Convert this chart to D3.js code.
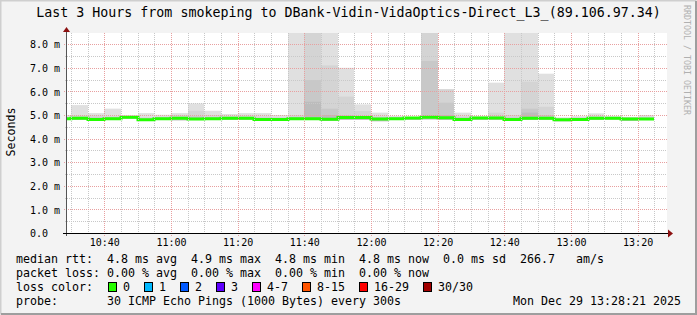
<!DOCTYPE html>
<html>
<head>
<meta charset="utf-8">
<script src="https://cdnjs.cloudflare.com/ajax/libs/d3/7.8.5/d3.min.js"></script>
<style>
  html, body { margin: 0; padding: 0; background: #f3f3f3; }
  svg { display: block; }
  text { font-family: "DejaVu Sans Mono", monospace; fill: #000; white-space: pre; }
</style>
</head>
<body>
<div id="chart"></div>
<script>
// 5 minute steps (start of each step)
var times = ["10:25","10:30","10:35","10:40","10:45","10:50","10:55","11:00","11:05","11:10","11:15","11:20",
             "11:25","11:30","11:35","11:40","11:45","11:50","11:55","12:00","12:05","12:10","12:15","12:20",
             "12:25","12:30","12:35","12:40","12:45","12:50","12:55","13:00","13:05","13:10","13:15","13:20"];

// median rtt (ms)
var median = [4.84,4.86,4.81,4.84,4.90,4.80,4.84,4.86,4.83,4.84,4.86,4.86,
              4.81,4.81,4.84,4.84,4.82,4.89,4.89,4.83,4.84,4.87,4.90,4.88,
              4.81,4.87,4.87,4.81,4.86,4.86,4.80,4.81,4.86,4.86,4.83,4.83];

// smoke (ms): outer ping range and inner bands
var smokeMax = [5.00,5.42,5.08,5.27,4.98,5.08,5.01,5.08,5.49,5.18,5.04,5.08,
                5.08,5.00,9.00,9.00,9.00,7.00,5.45,5.10,4.96,4.92,9.00,6.09,
                5.10,4.95,6.37,9.00,9.00,6.75,4.90,4.95,5.07,4.95,4.92,5.00];
var smokeHi1 = [4.90,4.98,4.98,4.95,4.95,4.90,4.93,5.00,5.18,5.00,4.95,4.98,
                4.95,4.90,5.00,9.00,7.10,5.78,5.17,4.95,4.92,4.90,9.00,6.09,
                4.95,4.92,5.10,5.00,6.41,5.35,4.85,4.90,4.95,4.90,4.90,4.92];
var smokeHi2 = [4.87,4.92,4.90,4.90,4.93,4.85,4.88,4.92,4.95,4.90,4.90,4.90,
                4.88,4.85,4.92,6.48,5.27,5.00,4.95,4.90,4.88,4.88,7.29,5.52,
                4.90,4.90,4.95,4.90,5.27,5.00,4.82,4.87,4.90,4.88,4.88,4.88];
var smokeHi3 = [4.86,4.88,4.86,4.87,4.91,4.83,4.86,4.88,4.90,4.87,4.88,4.88,
                4.85,4.83,4.88,5.56,5.00,4.92,4.90,4.86,4.85,4.86,5.00,5.00,
                4.86,4.88,4.90,4.85,5.10,4.92,4.80,4.85,4.87,4.86,4.86,4.86];
var smokeMin = [4.80,4.80,4.78,4.80,4.85,4.76,4.80,4.78,4.80,4.80,4.80,4.80,
                4.78,4.75,4.80,4.80,4.75,4.80,4.80,4.74,4.80,4.80,4.82,4.80,
                4.78,4.80,4.80,4.76,4.80,4.80,4.74,4.80,4.80,4.82,4.76,4.80];

var yTicks = [0,1,2,3,4,5,6,7,8];
var xTicks = ["10:40","11:00","11:20","11:40","12:00","12:20","12:40","13:00","13:20"];

var lossLabels = ["0","1","2","3","4-7","8-15","16-29","30/30"];
var lossColors = ["#26ff00","#00b8ff","#0059ff","#5e00ff","#ff00ff","#ff5500","#ff0000","#a10000"];

var W = 697, H = 315;
var pL = 67, pR = 667, pT = 33, pB = 233;
var cw = 7; // legend char width

function t(s) {
  var p = s.split(":");
  return new Date(2025, 11, 29, +p[0], +p[1], +(p[2] || 0));
}

var x = d3.scaleTime()
  .domain([t("10:28:49"), t("13:28:49")])
  .range([pL, pR]);

var y = d3.scaleLinear()
  .domain([0, 8.475])
  .range([pB, pT]);

var svg = d3.select("#chart").append("svg")
  .attr("width", W)
  .attr("height", H);

// background + 3d frame
svg.append("rect").attr("width", W).attr("height", H).attr("fill", "#f3f3f3");
svg.append("path").attr("d", "M0.5," + (H - 0.5) + "V0.5H" + (W - 0.5))
  .attr("stroke", "#cfcfcf").attr("stroke-width", 2).attr("fill", "none");
svg.append("path").attr("d", "M1," + (H - 1) + "H" + (W - 1) + "V1")
  .attr("stroke", "#9e9e9e").attr("stroke-width", 2).attr("fill", "none");

// plot area
svg.append("rect")
  .attr("x", pL).attr("y", pT)
  .attr("width", pR - pL).attr("height", pB - pT)
  .attr("fill", "#ffffff");

svg.append("clipPath").attr("id", "plot")
  .append("rect")
  .attr("x", pL).attr("y", pT)
  .attr("width", pR - pL).attr("height", pB - pT);

var plot = svg.append("g").attr("clip-path", "url(#plot)");

// smoke
var bands = [
  {hi: smokeMax, color: "#e0e0e0"},
  {hi: smokeHi1, color: "#d4d4d4"},
  {hi: smokeHi2, color: "#c8c8c8"},
  {hi: smokeHi3, color: "#bcbcbc"}
];

bands.forEach(function(b) {
  plot.append("g").selectAll("rect")
    .data(times)
    .enter()
    .append("rect")
    .attr("x", function(d) { return Math.round(x(t(d))); })
    .attr("width", function(d) {
      return Math.round(x(d3.timeMinute.offset(t(d), 5))) - Math.round(x(t(d)));
    })
    .attr("y", function(d, i) { return y(b.hi[i]); })
    .attr("height", function(d, i) { return Math.max(0, y(smokeMin[i]) - y(b.hi[i])); })
    .attr("fill", b.color);
});

// grid
var grid = svg.append("g").attr("shape-rendering", "crispEdges");

var minorY = d3.range(0.5, 8.5, 1);
var majorY = yTicks.filter(function(v) { return v > 0; });

grid.selectAll(".hminor")
  .data(minorY)
  .enter().append("line")
  .attr("x1", pL - 2).attr("x2", pR)
  .attr("y1", function(d) { return Math.round(y(d)) + 0.5; })
  .attr("y2", function(d) { return Math.round(y(d)) + 0.5; })
  .attr("stroke", "#c8c8c8")
  .attr("stroke-dasharray", "1,1");

var vMinor = x.ticks(d3.timeMinute.every(5)).filter(function(d) { return d.getMinutes() % 20 !== 0; });
var vMajor = xTicks.map(t);

grid.selectAll(".vminor")
  .data(vMinor)
  .enter().append("line")
  .attr("x1", function(d) { return Math.round(x(d)) + 0.5; })
  .attr("x2", function(d) { return Math.round(x(d)) + 0.5; })
  .attr("y1", pT).attr("y2", pB + 2)
  .attr("stroke", "#c8c8c8")
  .attr("stroke-dasharray", "1,1");

grid.selectAll(".hmajor")
  .data(majorY)
  .enter().append("line")
  .attr("x1", pL - 3).attr("x2", pR)
  .attr("y1", function(d) { return Math.round(y(d)) + 0.5; })
  .attr("y2", function(d) { return Math.round(y(d)) + 0.5; })
  .attr("stroke", "#e8a0a0")
  .attr("stroke-dasharray", "1,1");

grid.selectAll(".vmajor")
  .data(vMajor)
  .enter().append("line")
  .attr("x1", function(d) { return Math.round(x(d)) + 0.5; })
  .attr("x2", function(d) { return Math.round(x(d)) + 0.5; })
  .attr("y1", pT).attr("y2", pB + 3)
  .attr("stroke", "#e8a0a0")
  .attr("stroke-dasharray", "1,1");

// median line
var medPts = times.map(function(d, i) { return [t(d), median[i]]; });
medPts.push([d3.timeMinute.offset(t(times[times.length - 1]), 5), median[median.length - 1]]);

var line = d3.line()
  .x(function(d) { return Math.round(x(d[0])); })
  .y(function(d) { return y(d[1]); })
  .curve(d3.curveStepAfter);

plot.append("path")
  .datum(medPts)
  .attr("d", line)
  .attr("fill", "none")
  .attr("stroke", "#22ff00")
  .attr("stroke-width", 3);

// axes lines + arrows
svg.append("line")
  .attr("x1", pL - 0.5).attr("x2", pL - 0.5)
  .attr("y1", pB + 3).attr("y2", pT - 4)
  .attr("stroke", "#555").attr("stroke-width", 1);
svg.append("line")
  .attr("x1", pL - 4).attr("x2", pR + 3)
  .attr("y1", pB + 0.5).attr("y2", pB + 0.5)
  .attr("stroke", "#000").attr("stroke-width", 1);
svg.append("path")
  .attr("d", "M" + (pL - 4) + "," + (pT - 1) + "L" + (pL - 0.5) + "," + (pT - 6) + "L" + (pL + 3) + "," + (pT - 1) + "Z")
  .attr("fill", "#8b1010");
svg.append("path")
  .attr("d", "M" + (pR + 1) + "," + (pB - 3.5) + "L" + (pR + 6) + "," + (pB + 0.5) + "L" + (pR + 1) + "," + (pB + 4.5) + "Z")
  .attr("fill", "#8b1010");

// axis labels via d3 axes
var yAxis = d3.axisLeft(y)
  .tickValues(yTicks)
  .tickSize(0)
  .tickFormat(function(d) { return d === 0 ? "0.0" : d.toFixed(1) + " m"; });

var ya = svg.append("g")
  .attr("transform", "translate(" + pL + ",0)")
  .call(yAxis);
ya.select(".domain").remove();
ya.selectAll("text")
  .attr("x", 30 - pL)
  .attr("dy", "0.36em")
  .attr("text-anchor", "start")
  .style("font-family", "'DejaVu Sans Mono', monospace")
  .style("font-size", "10px")
  .attr("fill", "#000");

var xAxis = d3.axisBottom(x)
  .tickValues(vMajor)
  .tickSize(0)
  .tickFormat(d3.timeFormat("%H:%M"));

var xa = svg.append("g")
  .attr("transform", "translate(0," + pB + ")")
  .call(xAxis);
xa.select(".domain").remove();
xa.selectAll("text")
  .attr("y", 13)
  .attr("dy", 0)
  .style("font-family", "'DejaVu Sans Mono', monospace")
  .style("font-size", "10px")
  .attr("fill", "#000");

// title
svg.append("text")
  .attr("x", 348.5).attr("y", 17)
  .attr("text-anchor", "middle")
  .style("font-size", "13.3px")
  .text("Last 3 Hours from smokeping to DBank-Vidin-VidaOptics-Direct_L3_(89.106.97.34)");

// y label
svg.append("text")
  .attr("transform", "translate(15,132) rotate(-90)")
  .attr("text-anchor", "middle")
  .style("font-size", "11.6px")
  .text("Seconds");

// watermark
svg.append("text")
  .attr("transform", "translate(684,5) rotate(90)")
  .style("font-size", "8.3px")
  .style("fill", "#b0b0b0")
  .text("RRDTOOL / TOBI OETIKER");

// legend
var lx = 16;
var rows = [
  "median rtt:  4.8 ms avg  4.9 ms max  4.8 ms min  4.8 ms now  0.0 ms sd  266.7   am/s",
  "packet loss: 0.00 % avg  0.00 % max  0.00 % min  0.00 % now",
  "loss color:",
  "probe:       30 ICMP Echo Pings (1000 Bytes) every 300s"
];
var rowY = [263, 277, 291, 305];

svg.selectAll(".leg")
  .data(rows)
  .enter().append("text")
  .attr("class", "leg")
  .attr("x", lx)
  .attr("y", function(d, i) { return rowY[i]; })
  .style("font-size", "11.63px")
  .text(function(d) { return d; });

svg.append("text")
  .attr("x", 681).attr("y", rowY[3])
  .attr("text-anchor", "end")
  .style("font-size", "11.63px")
  .text("Mon Dec 29 13:28:21 2025");

var bx = 108;
lossLabels.forEach(function(lab, i) {
  svg.append("rect")
    .attr("x", bx + 0.5).attr("y", rowY[2] - 8.5)
    .attr("width", 8).attr("height", 9)
    .attr("fill", lossColors[i])
    .attr("stroke", "#000").attr("stroke-width", 1);
  svg.append("text")
    .attr("x", bx + 15).attr("y", rowY[2])
    .style("font-size", "11.63px")
    .text(lab);
  bx = bx + 15 + lab.length * cw + 14;
});
</script>
</body>
</html>
